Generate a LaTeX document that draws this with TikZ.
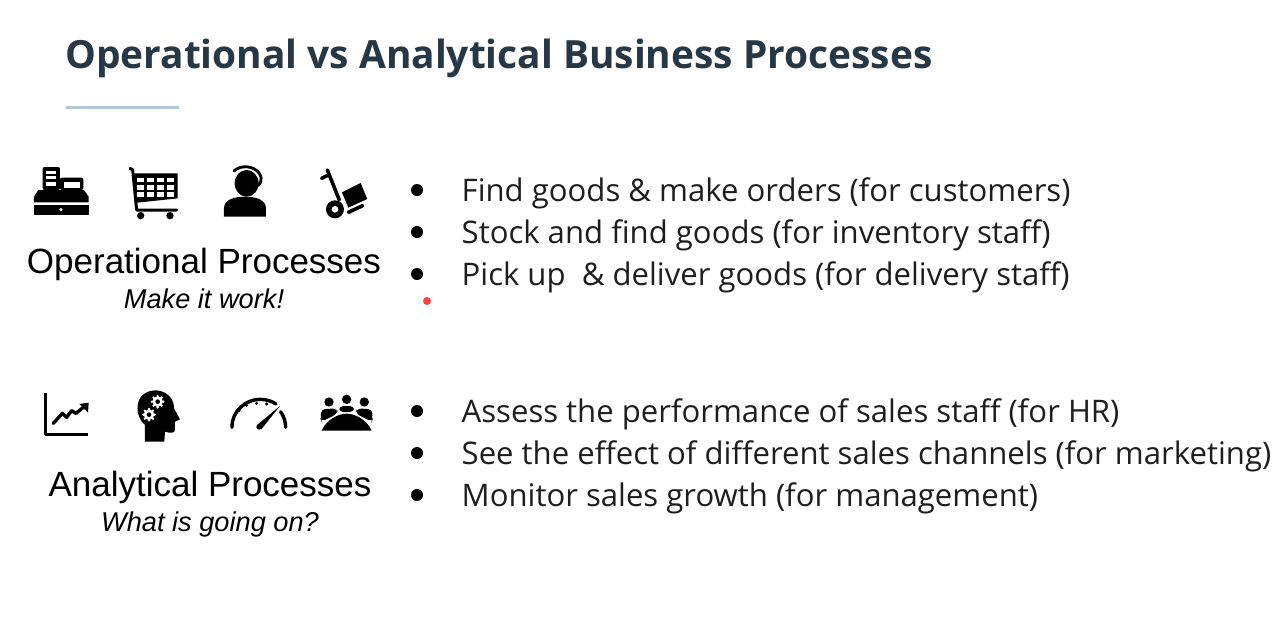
\documentclass[tikz,border=0pt]{standalone}
\usepackage{fontspec}
\setmainfont{Open Sans}
\newfontfamily\arialf{Liberation Sans}
\definecolor{titlec}{HTML}{263746}
\definecolor{rulec}{HTML}{B4C7D6}
\definecolor{bodyc}{HTML}{1E1E1E}
\tikzset{
 title/.style={anchor=base west,inner sep=0,font=\fontsize{38.86}{40}\selectfont\bfseries,text=titlec},
 item/.style={anchor=base west,inner sep=0,font=\fontsize{31.1}{32}\selectfont,text=bodyc},
 head/.style={anchor=base,inner sep=0,font=\arialf\fontsize{35}{36}\selectfont,text=black},
 sub/.style={anchor=base,inner sep=0,font=\arialf\itshape\fontsize{27.2}{28}\selectfont,text=black},
 dotm/.style={circle,fill=black,inner sep=0,minimum size=12pt},
 reddot/.style={circle,fill=red!75!white,inner sep=0,minimum size=8pt},
 ico/.style={fill=black,draw=none},
 icol/.style={draw=black,line width=2.2pt,line cap=round,line join=round,fill=none},
 iwh/.style={fill=white,draw=none},
}
\begin{document}
\begin{tikzpicture}[x=1pt,y=-1pt]
\useasboundingbox (0,0) rectangle (1287,633);
\fill[white] (0,0) rectangle (1287,633);
\node[title] (t) at (65,68.5) {Operational vs Analytical Business Processes};
\draw[rulec,line width=3pt] (66,107) -- (179,107);

\node[head] (h1) at (204,273.5) {Operational Processes};
\node[sub] (s1) at (204,308.5) {Make it work!};
\node[head] (h2) at (210,496.5) {Analytical Processes};
\node[sub] (s2) at (210,531.5) {What is going on?};

\foreach \n/\y/\tx in {a/190/{Find goods \& make orders (for customers)},b/232/{Stock and find goods (for inventory staff)},c/274/{Pick up\ \ \& deliver goods (for delivery staff)},d/411/{Assess the performance of sales staff (for HR)},e/453/{See the effect of different sales channels (for marketing)},f/495/{Monitor sales growth (for management)}}{
  \node[dotm] (b\n) at (417,\y) {};
  \node[item] (i\n) at (461.5,\y+11) {\tx};
}
\node[reddot] (r) at (427,301) {};

% Operational icons (zoom coordinates, 3x)
\begin{scope}[shift={(20,155)},x=0.3333pt,y=-0.3333pt]
 % register
 \fill[ico,rounded corners=2pt] (68,36) rectangle (120,105);
 \fill[iwh] (78,47) rectangle (108,57); \fill[iwh] (78,64) rectangle (108,73);\fill[iwh] (78,80) rectangle (108,92);
 \fill[ico,rounded corners=2pt] (120,68) rectangle (190,105);
 \fill[iwh] (132,80) rectangle (181,100);
 \fill[ico] (55,105) -- (192,105) -- (206,125) -- (206,142) -- (42,142) -- (42,125) -- cycle;
 \fill[ico] (42,150) rectangle (206,180);
 \fill[iwh] (123,164) circle (5);
 % cart
 \draw[icol,line width=3pt] (330,40) -- (338,44) -- (350,165) -- (470,165);
 \fill[ico] (342,55) -- (473,55) -- (473,130) -- (352,143) -- cycle;
 \foreach \cx in {352,382,412,442}{\foreach \cy in {68,90,112}{\fill[iwh] (\cx,\cy) rectangle +(21,14);}}
 \fill[ico] (362,182) circle (11); \fill[ico] (450,182) circle (11);
 % agent
 \fill[ico] (680,85) ellipse (36 and 40);
 \draw[icol,line width=2.8pt] (642,48) .. controls (660,30) and (700,30) .. (718,55) .. controls (730,75) and (725,95) .. (688,100);
 \fill[ico] (612,185) -- (612,160) .. controls (612,135) and (640,125) .. (675,125) .. controls (710,125) and (738,135) .. (738,160) -- (738,185) -- cycle;
 % hand truck
 \draw[icol,line width=3.6pt] (905,70) -- (925,60);
 \draw[icol,line width=3.6pt] (922,45) -- (958,135);
 \fill[ico] (966,112) -- (1022,84) -- (1042,132) -- (985,158) -- cycle;
 \draw[icol,line width=3.6pt] (985,172) -- (1028,152);
 \fill[ico] (945,163) circle (27); \fill[iwh] (945,163) circle (10);
\end{scope}

% Analytical icons
\begin{scope}[shift={(30,380)},x=0.3333pt,y=-0.3333pt]
 % chart
 \draw[icol,line width=3pt,line cap=butt] (47,38) -- (47,163) -- (175,163);
 \draw[icol,line width=3.4pt] (70,130) -- (97,100) -- (110,112) -- (125,92) -- (138,100) -- (165,78);
 \fill[ico] (148,72) -- (176,68) -- (174,98) -- cycle;
 % head
 \fill[ico] (345,185) -- (345,135) .. controls (315,110) and (315,55) .. (345,40) .. controls (385,15) and (435,45) .. (432,85) -- (450,118) -- (435,125) -- (435,150) .. controls (435,160) and (420,160) .. (405,155) -- (403,185) -- cycle;
 \foreach \gx/\gy in {383/65,357/104}{
  \fill[iwh] (\gx,\gy) circle (16);
  \foreach \ang in {0,45,...,315}{\fill[iwh] (\gx,\gy) ++(\ang:17) circle (4);}
  \fill[ico] (\gx,\gy) circle (7);
 }
 % gauge
 \draw[icol,line width=3.4pt] (606,142) .. controls (606,90) and (650,58) .. (690,58) .. controls (712,58) and (728,65) .. (738,72);
 \draw[icol,line width=3.4pt] (752,95) .. controls (762,110) and (767,125) .. (767,142);
 \foreach \tkx/\tky in {627/92,650/76,680/70,710/72}{\fill[ico] (\tkx,\tky) circle (5);}
 \fill[ico] (680,136) -- (750,78) -- (694,148) -- cycle;
 \fill[ico] (687,141) circle (8);
 % meeting
 \fill[ico] (897,66) circle (14); \fill[ico] (950,58) circle (14); \fill[ico] (1003,66) circle (14);
 \fill[ico,rounded corners=4pt] (873,120) -- (873,88) -- (920,85) -- (924,100) -- (875,125) -- cycle;
 \fill[ico,rounded corners=4pt] (928,78) rectangle (972,96);
 \fill[ico,rounded corners=4pt] (1027,120) -- (1027,88) -- (982,85) -- (976,100) -- (1025,125) -- cycle;
 \fill[ico] (875,152) .. controls (890,118) and (925,101) .. (950,101) .. controls (975,101) and (1010,118) .. (1025,152) -- cycle;
\end{scope}
\end{tikzpicture}
\end{document}
